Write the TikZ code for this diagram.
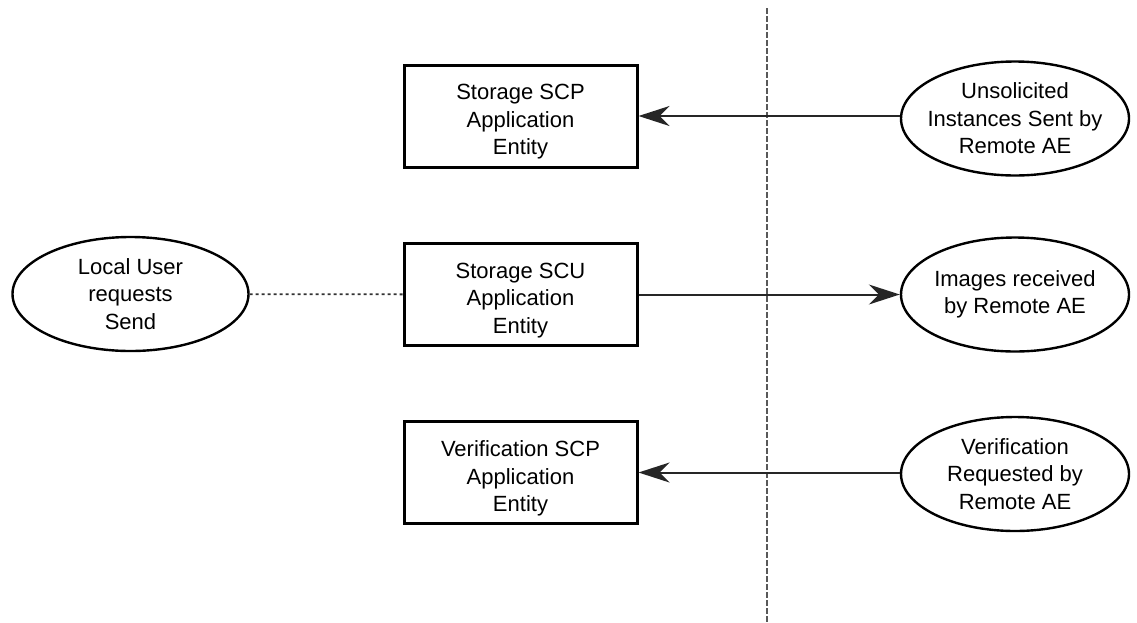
\documentclass[tikz,border=0pt]{standalone}
\usepackage{fontspec}
\setmainfont{Liberation Sans}
\usetikzlibrary{shapes.geometric,arrows.meta}
\begin{document}
\begin{tikzpicture}[x=1pt,y=-1pt,
  txt/.style={font=\fontsize{22pt}{27.5pt}\selectfont, align=center},
  aebox/.style={draw, line width=3pt, minimum width=233pt, minimum height=102pt, inner sep=0pt},
  boxtext/.style={label={[txt, yshift=-6pt]center:#1}},
  actor/.style={txt, ellipse, draw, line width=2.4pt, minimum width=228pt, minimum height=114pt, inner sep=-20pt},
  flow/.style={line width=2pt, draw=black!85, -{Stealth[length=31pt,width=20pt,inset=10pt]}},
  divider/.style={draw=black!65, line width=1.5pt, dash pattern=on 6pt off 2pt},
  link/.style={draw=black!80, line width=1.8pt, dash pattern=on 3pt off 3pt}]
\useasboundingbox (0,0) rectangle (1137,622);
\node[aebox, boxtext={Storage SCP\\Application\\Entity}] (scp) at (520.5,116) {};
\node[aebox, boxtext={Storage SCU\\Application\\Entity}] (scu) at (520.5,294.5) {};
\node[aebox, boxtext={Verification SCP\\Application\\Entity}] (ver) at (520.5,472.5) {};
\node[actor] (uns) at (1015,118.5) {Unsolicited\\Instances Sent by\\Remote AE};
\node[actor] (img) at (1015,294.5) {Images received\\by Remote AE};
\node[actor] (vrq) at (1015,474) {Verification\\Requested by\\Remote AE};
\node[actor, minimum width=236pt] (loc) at (130.5,294) {Local User\\requests\\Send};
\coordinate (dtop) at (767,8);
\coordinate (dbot) at (767,622);
\draw[divider] (dtop) -- (dbot);
\draw[link] (loc) -- (scu);
\draw[flow] (uns.west |- scp.east) -- (scp.east);
\draw[flow] (scu.east) -- (img.west);
\draw[flow] (vrq.west |- ver.east) -- (ver.east);
\end{tikzpicture}
\end{document}
